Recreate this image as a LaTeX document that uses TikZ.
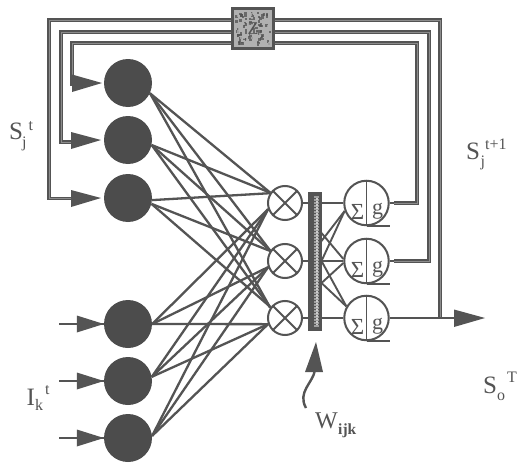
\documentclass[tikz,border=0pt]{standalone}
\usepackage{fontspec}
\setmainfont{Liberation Serif}
\definecolor{ink}{gray}{0.33}
\definecolor{disc}{gray}{0.30}
\tikzset{
  x=1pt,y=-1pt,
  neuron/.style={circle,fill=disc,draw=none,minimum size=48pt,inner sep=0pt},
  product/.style={circle,draw=ink,line width=2pt,minimum size=34pt,inner sep=0pt},
  sumbox/.style={circle,draw=ink,line width=2pt,minimum size=44.5pt,inner sep=0pt},
  edge/.style={draw=ink,line width=2.3pt},
  thin edge/.style={draw=ink,line width=1.9pt},
  wire/.style={draw=ink,line width=1.4pt,double=black!45,double distance=0.6pt},
  lab/.style={text=ink,inner sep=0pt,anchor=base west},
  big/.style={font=\fontsize{25}{25}\selectfont},
  small/.style={font=\fontsize{16}{16}\selectfont},
}
\begin{document}
\begin{tikzpicture}
\useasboundingbox (0,0) rectangle (520,463);
\fill[white] (0,0) rectangle (520,463);
\node[neuron] (a) at (128,83) {};
\node[neuron] (b) at (128,140) {};
\node[neuron] (c) at (128,198) {};
\node[neuron] (d) at (128,324) {};
\node[neuron] (e) at (128,381) {};
\node[neuron] (f) at (128,438) {};
\node[product] (p) at (285,203) {};
\node[product] (q) at (285,261) {};
\node[product] (r) at (285,318) {};
\foreach \n in {p,q,r}{
  \draw[thin edge] (\n.45) -- (\n.225) (\n.135) -- (\n.315);
}
% fans from the state neurons
\foreach \t in {p,q,r}{
  \draw[edge] (a.-25) -- (\t.145);
  \draw[edge] (b.-12) -- (\t.145);
}
\draw[edge] (c.-5) -- (p.147);
\draw[edge] (c.-14) -- (q.146);
\draw[edge] (c.-14) -- (r.143);
% fans from the input neurons
\foreach \t in {p,q,r}{
  \draw[edge] (d.0) -- (\t.200);
  \draw[edge] (e.10) -- (\t.200);
  \draw[edge] (f.5) -- (\t.200);
}
\node[sumbox] (u) at (366.5,203) {};
\node[sumbox] (v) at (366.5,261) {};
\node[sumbox] (w) at (366.5,318) {};
% weight bar
\node[draw=ink,fill=ink,line width=1pt,minimum width=13pt,minimum height=138pt,inner sep=0pt] (bar) at (314.5,261) {};
\draw[gray!75,line width=5pt,dash pattern=on 2pt off 1pt] (316.5,196) -- (316.5,327);
\draw[gray!40,line width=2pt,dash pattern=on 1.5pt off 1.5pt] (316.5,198) -- (316.5,325);
% product to bar
\draw[edge] (p.east) -- (bar.west|-p.east);
\draw[edge] (q.east) -- (bar.west|-q.east);
\draw[edge] (r.east) -- (bar.west|-r.east);
% bar to sum units
\coordinate (e1) at (bar.east|-u.west);
\coordinate (e2) at (bar.east|-v.west);
\coordinate (e3) at (bar.east|-w.west);
\coordinate (x1) at ([yshift=28pt]e2);
\coordinate (x2) at ([yshift=-22pt]e2);
\coordinate (x3) at ([yshift=20pt]e2);
\draw[thin edge] (e1) -- (u.west);
\draw[thin edge] (e2) -- (v.west);
\draw[thin edge] (e3) -- (w.west);
\draw[thin edge] (x3) -- (u.200);
\draw[thin edge] (e2) -- (u.200);
\draw[thin edge] (x1) -- (v.175);
\draw[thin edge] (x2) -- (v.185);
\draw[thin edge] (x2) -- (w.150);
\draw[thin edge] (e2) -- (w.150);
\foreach \t in {u,v,w}{
  \draw[thin edge] (\t.north) -- (\t.south);
  \draw[edge,line width=2.4pt] (\t.south) -- ++(23,0);
  \node[text=ink,inner sep=0pt,font=\fontsize{23}{23}\selectfont] at ([xshift=-9pt,yshift=-9pt]\t.center) {Σ};
  \node[text=ink,inner sep=0pt,font=\fontsize{22}{22}\selectfont] at ([xshift=11pt,yshift=-8pt]\t.center) {g};
}
% delay box
\node[draw=ink,line width=2.8pt,fill=gray!62,minimum width=41pt,minimum height=40pt,inner sep=0pt] (z) at (253,28.5) {};
\pgfmathsetseed{7}
\foreach \i in {1,...,150}{
  \pgfmathsetmacro{\px}{235+rnd*34}
  \pgfmathsetmacro{\py}{11+rnd*34}
  \pgfmathsetmacro{\sh}{rnd<0.5?30:68}
  \fill[black!\sh!white,opacity=.75] (\px,\py) rectangle +(2.5,2.5);
}
\node[text=ink,inner sep=0pt,font=\fontsize{18}{18}\selectfont] at (z.center) {Z};
% feedback wires
\coordinate (zl1) at (z.west|-0,20);
\coordinate (zl2) at (z.west|-0,32);
\coordinate (zl3) at (z.west|-0,43);
\coordinate (zr1) at (z.east|-0,20);
\coordinate (zr2) at (z.east|-0,32);
\coordinate (zr3) at (z.east|-0,43);
\coordinate (in1) at (72,86);
\coordinate (in2) at (74,142);
\coordinate (in3) at (74,198.5);
\draw[wire] (zl1) -| (49,198.5) -- (in3);
\draw[wire] (zl2) -| (61,142) -- (in2);
\draw[wire] (zl3) -| (in1);
\coordinate (joint) at (440,318);
\draw[wire] (zr1) -| (joint);
\draw[wire] (zr2) -| (429,261) -- (394,261);
\draw[wire] (zr3) -| (417,203) -- (394,203);
\draw[edge] (v.east) -- (394,261);
\draw[edge] (u.east) -- (394,203);
\draw[edge] (w.east) -- (456,318);
\fill[ink] (72,74.5) -- (102,83) -- (72,92) -- cycle;
\fill[ink] (71,132) -- (101,140) -- (71,149) -- cycle;
\fill[ink] (71,190) -- (101,198) -- (71,207) -- cycle;
\foreach \n in {d,e,f}{
  \draw[edge,line width=2.6pt] (\n.west) -- ++(-45,0);
  \fill[ink] ([xshift=-27pt,yshift=8.5pt]\n.west) -- (\n.west) -- ([xshift=-27pt,yshift=-8.5pt]\n.west) -- cycle;
}
\fill[ink] (454,309.5) -- (485,318) -- (454,327) -- cycle;
% pointer to the weights
\coordinate (ptr) at (306,408);
\fill[ink] (316,342) -- (305,372) -- (323,372) -- cycle;
\draw[ink,line width=2.4pt] (315,370) .. controls (313,383) and (297,392) .. (ptr);
% labels
\node[lab,big] at (9,139) {S};
\node[lab,small] at (22,147) {j};
\node[lab,small] at (28.5,130) {t};
\node[lab,big] at (466,159) {S};
\node[lab,small] at (480.5,166) {j};
\node[lab,small] at (485,149.5) {t+1};
\node[lab,big] at (26.5,405) {I};
\node[lab,small] at (35,410) {k};
\node[lab,small] at (45,394.5) {t};
\node[lab,big] at (483,393) {S};
\node[lab,small] at (497,400) {o};
\node[lab,small] at (507,382) {T};
\node[lab,font=\fontsize{24}{24}\selectfont] at (315,428) {W};
\node[lab,font=\bfseries\fontsize{15.5}{16}\selectfont] at (338,434) {ijk};
\end{tikzpicture}
\end{document}
